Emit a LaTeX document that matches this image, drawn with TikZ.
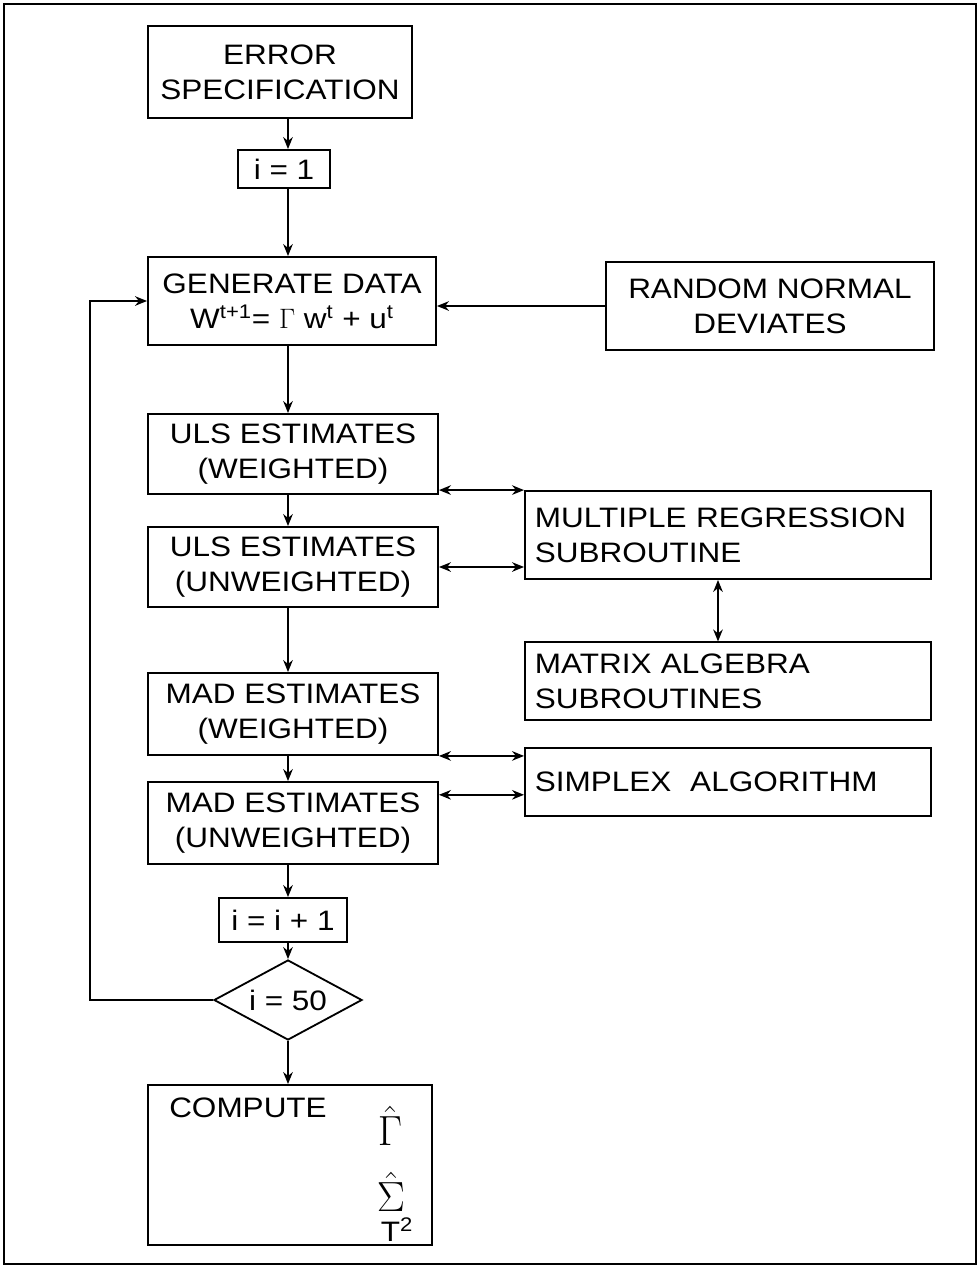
\RequirePackage{fix-cm}
\documentclass[tikz,border=0pt]{standalone}
\usepackage{fontspec}
\setmainfont{Liberation Sans}[FakeStretch=1.12]
\usepackage{amsmath}
\usetikzlibrary{arrows.meta,positioning,calc,shapes.geometric}

\begin{document}
\begin{tikzpicture}[x=0.025cm,y=-0.025cm,
box/.style={draw,line width=1.3pt,minimum width=7.25cm,minimum height=2cm,align=center,inner sep=2pt,font=\fontsize{20}{25}\selectfont},
sub/.style={draw,line width=1.3pt,minimum height=2.2cm,text width=9.65cm,inner xsep=0.25cm,align=left,font=\fontsize{20}{25}\selectfont},
cnt/.style={draw,line width=1.3pt,minimum height=1cm,inner sep=2pt,font=\fontsize{20}{24}\selectfont},
sym/.style={inner sep=0pt,font=\fontsize{30}{30}\selectfont},
arr/.style={-{Stealth[length=3mm,width=2.4mm]},line width=1.1pt},
dbl/.style={{Stealth[length=3mm,width=2.4mm]}-{Stealth[length=3mm,width=2.4mm]},line width=1.1pt}
]
\useasboundingbox (0,0) rectangle (978,1269);
\draw[line width=1.4pt] (4,4) rectangle (976,1264);

% main column
\node[box,minimum width=6.6cm,minimum height=2.3cm] (err) at (280,72) {ERROR\\SPECIFICATION};
\node[cnt,minimum width=2.3cm,minimum height=0.95cm] (i1) at (284,169) {i = 1};
\node[box,minimum width=7.2cm,minimum height=2.2cm] (gen) at (292,301) {GENERATE DATA\\W\textsuperscript{t+1}= $\Gamma$ w\textsuperscript{t} + u\textsuperscript{t}};
\node[box] (ulsw) at (293,454) {ULS ESTIMATES\\(WEIGHTED)};
\node[box] (ulsu) at (293,567) {ULS ESTIMATES\\(UNWEIGHTED)};
\node[box,minimum height=2.05cm] (madw) at (293,714) {MAD ESTIMATES\\(WEIGHTED)};
\node[box,minimum height=2.05cm] (madu) at (293,823) {MAD ESTIMATES\\(UNWEIGHTED)};
\node[cnt,minimum width=3.18cm,minimum height=1.1cm] (inc) at (283,920) {i = i + 1};
\node[draw,diamond,line width=1.3pt,aspect=1.85,minimum width=3.7cm,minimum height=2cm,inner sep=0pt,font=\fontsize{20}{24}\selectfont] (dec) at (288,1000) {i = 50};
\node[box,minimum width=7.1cm,minimum height=4cm] (comp) at (290,1165) {};
\node[font=\fontsize{20}{24}\selectfont] (ctxt) at (248,1108) {COMPUTE};
\node[sym] (gam) at (390,1126) {$\hat{\Gamma}$};
\node[sym] (sig) at (391,1192) {$\hat{\Sigma}$};
\node[inner sep=0pt,font=\fontsize{20}{24}\selectfont] (tau) at (397,1230) {T\textsuperscript{2}};

% right column
\node[box,minimum width=8.2cm,minimum height=2.2cm] (rnd) at (770,306) {RANDOM NORMAL\\DEVIATES};
\node[sub] (mr) at (728,535) {MULTIPLE REGRESSION\\SUBROUTINE};
\node[sub,minimum height=1.93cm] (mx) at (728,681) {MATRIX ALGEBRA\\SUBROUTINES};
\node[sub,minimum height=1.7cm] (sx) at (728,782) {SIMPLEX\ \ ALGORITHM};

\coordinate (sp) at (288,0);
\coordinate (lp) at (90,1000);

\foreach \a/\b in {err/i1,i1/gen,gen/ulsw,ulsw/ulsu,ulsu/madw,madw/madu,madu/inc,inc/dec,dec/comp}
  \draw[arr] (\a.south -| sp) -- (\b.north -| sp);
\draw[arr] (rnd.west) -- (rnd.west -| gen.east);
\draw[arr] (dec.west) -- (lp) |- (gen.west);

\draw[dbl] (mr.north west -| ulsw.east) -- (mr.north west);
\draw[dbl] (ulsu.east) -- (ulsu.east -| mr.west);
\draw[dbl] ([xshift=-0.25cm]mr.south) -- ([xshift=-0.25cm]mx.north);
\draw[dbl] (madw.south east) -- (madw.south east -| sx.west);
\draw[dbl] ([yshift=-0.32cm]sx.west -| madu.east) -- ([yshift=-0.32cm]sx.west);
\end{tikzpicture}
\end{document}
